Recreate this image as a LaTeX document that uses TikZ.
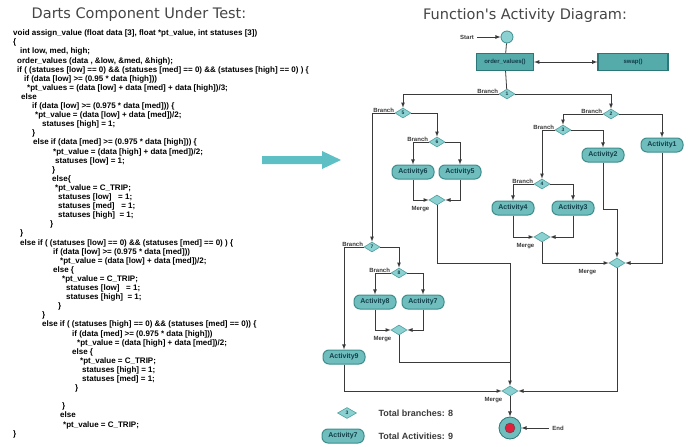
\documentclass[tikz,border=0pt]{standalone}
\usepackage{fontspec}
\setmainfont{Liberation Sans}
\newfontfamily\headfont{DejaVu Sans}
\usetikzlibrary{shapes.geometric}
\definecolor{linegray}{HTML}{3A3A3A}
\definecolor{actfill}{HTML}{6FBDBD}
\definecolor{actline}{HTML}{3E8E8E}
\definecolor{acttext}{HTML}{123F4A}
\definecolor{diafill}{HTML}{8CD1D1}
\definecolor{dialine}{HTML}{4F9F9F}
\definecolor{boxfill}{HTML}{55AAAA}
\definecolor{boxline}{HTML}{2C7878}
\definecolor{bigarrow}{HTML}{5EC0C5}
\definecolor{titlegray}{HTML}{454545}
\definecolor{endred}{HTML}{E0203C}

\begin{document}
\begin{tikzpicture}[x=1pt,y=-1pt,>=latex,
	code/.style={anchor=base west,inner sep=0pt,font=\bfseries\fontsize{8}{9}\selectfont},
	act/.style={draw=actline,fill=actfill,line width=1pt,rounded corners=6pt,minimum width=42pt,minimum height=14pt,inner sep=1pt,font=\bfseries\fontsize{7}{8}\selectfont,text=acttext},
	opbox/.style={draw=boxline,fill=boxfill,line width=1.2pt,minimum height=17pt,inner sep=1pt,font=\bfseries\fontsize{6}{7}\selectfont,text=acttext},
	dia/.style={diamond,draw=dialine,fill=diafill,line width=0.6pt,minimum width=16pt,minimum height=10pt,inner sep=0pt,font=\bfseries\fontsize{5}{5}\selectfont,text=acttext},
	brlab/.style={anchor=south east,inner sep=0.5pt,font=\bfseries\fontsize{6}{7}\selectfont,text=linegray},
	mglab/.style={anchor=north east,inner sep=0.5pt,xshift=-7pt,font=\bfseries\fontsize{6}{7}\selectfont,text=linegray},
	small/.style={font=\bfseries\fontsize{6}{7}\selectfont,text=linegray},
	legtxt/.style={anchor=west,font=\bfseries\fontsize{9}{10}\selectfont,text=linegray},
	flow/.style={draw=linegray,line width=0.8pt}]
	\useasboundingbox (0,0) rectangle (694,447);
	\fill[white] (0,0) rectangle (694,447);
	\node[font=\headfont\fontsize{14.5}{16}\selectfont,text=titlegray] (tcode) at (139,14) {Darts Component Under Test:};
	\node[font=\headfont\fontsize{14.5}{16}\selectfont,text=titlegray] (tact) at (525,15) {Function's Activity Diagram:};
	\foreach \i/\x/\t in {
		1/13/{void assign\_value (float data [3], float *pt\_value, int statuses [3])},
		2/13/{\{},
		3/20/{int low, med, high;},
		4/17/{order\_values (data , \&low, \&med, \&high);},
		5/17/{if ( (statuses [low] == 0) \&\& (statuses [med] == 0) \&\& (statuses [high] == 0) ) \{},
		6/24/{if (data [low] >= (0.95 * data [high]))},
		7/27/{*pt\_values = (data [low] + data [med] + data [high])/3;},
		8/21/{else},
		9/32/{if (data [low] >= (0.975 * data [med])) \{},
		10/35/{*pt\_value = (data [low] + data [med])/2;},
		11/42/{statuses [high] = 1;},
		12/32/{\}},
		13/33/{else if (data [med] >= (0.975 * data [high])) \{},
		14/53/{*pt\_value = (data [high] + data [med])/2;},
		15/55/{statuses [low] = 1;},
		16/52/{\}},
		17/52/{else\{},
		18/55/{*pt\_value = C\_TRIP;},
		19/58/{statuses [low] \ \ = 1;},
		20/58/{statuses [med] \ \ = 1;},
		21/58/{statuses [high] \ = 1;},
		22/50/{\}},
		23/20/{\}},
		24/20/{else if ( (statuses [low] == 0) \&\& (statuses [med] == 0) ) \{},
		25/53/{if (data [low] >= (0.975 * data [med]))},
		26/60/{*pt\_value = (data [low] + data [med])/2;},
		27/53/{else \{},
		28/62/{*pt\_value = C\_TRIP;},
		29/66/{statuses [low] \ \ = 1;},
		30/66/{statuses [high] \ = 1;},
		31/58/{\}},
		32/42/{\}},
		33/42/{else if ( (statuses [high] == 0) \&\& (statuses [med] == 0)) \{},
		34/72/{if (data [med] >= (0.975 * data [high]))},
		35/77/{*pt\_value = (data [high] + data [med])/2;},
		36/72/{else \{},
		37/80/{*pt\_value = C\_TRIP;},
		38/82/{statuses [high] = 1;},
		39/82/{statuses [med] = 1;},
		40/75/{\}},
		42/62/{\}},
		43/60/{else},
		44/63/{*pt\_value = C\_TRIP;},
		45/13/{\}}}
		\node[code] (c\i) at ({\x},{35.7+(\i-1)*9.1}) {\t};
	\fill[bigarrow] (262,156) -- (322,156) -- (322,151) -- (341,160) -- (322,169) -- (322,164) -- (262,164) -- cycle;
	\node[circle,draw=actline,fill=diafill,line width=0.8pt,minimum size=12pt,inner sep=0pt] (start) at (507,37) {};
	\node[small] (lstart) at (467,37) {Start};
	\node[opbox,minimum width=57pt] (ordv) at (505,62) {order\_values()};
	\node[opbox,minimum width=70pt] (swap) at (633,62) {swap()};
	\node[dia,label={[brlab]west:Branch}] (b1) at (507,94) {1};
	\node[dia,label={[brlab]west:Branch}] (b2) at (611,114) {2};
	\node[dia,label={[brlab]west:Branch}] (b3) at (563,130) {3};
	\node[dia,label={[brlab]west:Branch}] (b4) at (542,184) {4};
	\node[dia,label={[brlab]west:Branch}] (b5) at (403,113) {5};
	\node[dia,label={[brlab]west:Branch}] (b6) at (437,142) {6};
	\node[dia,label={[brlab]west:Branch}] (b7) at (372,247) {7};
	\node[dia,label={[brlab]west:Branch}] (b8) at (399,273) {8};
	\node[act] (act1) at (662,145) {Activity1};
	\node[act] (act2) at (603,155) {Activity2};
	\node[act] (act3) at (573,208) {Activity3};
	\node[act] (act4) at (513,208) {Activity4};
	\node[act] (act5) at (460,172) {Activity5};
	\node[act] (act6) at (413,172) {Activity6};
	\node[act] (act7) at (423,302) {Activity7};
	\node[act] (act8) at (375,302) {Activity8};
	\node[act] (act9) at (344,357) {Activity9};
	\node[dia,label={[mglab]south:Merge}] (m6) at (437,200) {};
	\node[dia,label={[mglab]south:Merge}] (m4) at (542,237) {};
	\node[dia,label={[mglab,xshift=-13pt]south:Merge}] (m2) at (617,263) {};
	\node[dia,label={[mglab]south:Merge}] (m8) at (399,330) {};
	\node[dia,label={[mglab]south:Merge}] (mend) at (510,391) {};
	\node[circle,draw=boxline,fill=actfill,line width=0.8pt,minimum size=22pt,inner sep=0pt] (end) at (510,428) {};
	\node[circle,draw=black!70,fill=endred,minimum size=10pt,inner sep=0pt] (endin) at (end) {};
	\node[small] (lend) at (558,428) {End};
	\coordinate (j1) at (510,263);
	\coordinate (j2) at (510,362);
	\coordinate (k2) at (617,209);
	\draw[flow,->] (lstart) -- (start);
	\draw[flow] (start) -- (ordv);
	\draw[flow,<->] (ordv) -- (swap);
	\draw[flow] (ordv) -- (b1);
	\draw[flow,->] (b1.west) -| (b5.north);
	\draw[flow,->] (b1.east) -| (b2.north);
	\draw[flow,->] (b5.west) -| (b7.north);
	\draw[flow,->] (b5.east) -| (b6.north);
	\draw[flow,->] (b6.west) -| (act6.north);
	\draw[flow,->] (b6.east) -| (act5.north);
	\draw[flow,->] (act6.south) |- (m6.west);
	\draw[flow,->] (act5.south) |- (m6.east);
	\draw[flow,->] (b2.west) -| (b3.north);
	\draw[flow,->] (b2.east) -| (act1.north);
	\draw[flow,->] (b3.west) -| (b4.north);
	\draw[flow,->] (b3.east) -| (act2.north);
	\draw[flow,->] (b4.west) -| (act4.north);
	\draw[flow,->] (b4.east) -| (act3.north);
	\draw[flow,->] (act4.south) |- (m4.west);
	\draw[flow,->] (act3.south) |- (m4.east);
	\draw[flow,->] (m4.south) |- (m2.west);
	\draw[flow,->] (act2.south) |- (k2) -- (m2.north);
	\draw[flow,->] (act1.south) |- (m2.east);
	\draw[flow,->] (m2.south) |- (mend.east);
	\draw[flow,->] (b7.west) -| (act9.north);
	\draw[flow,->] (b7.east) -| (b8.north);
	\draw[flow,->] (b8.west) -| (act8.north);
	\draw[flow,->] (b8.east) -| (act7.north);
	\draw[flow,->] (act8.south) |- (m8.west);
	\draw[flow,->] (act7.south) |- (m8.east);
	\draw[flow] (m8.south) |- (j2);
	\draw[flow,->] (m6.south) |- (j1) -- (mend.north);
	\draw[flow,->] (act9.south) |- (mend.west);
	\draw[flow,->] (mend) -- (end);
	\draw[flow,->] (lend.west) -- (end.east);
	\node[dia,minimum width=19pt,minimum height=11pt] (legb) at (347,413) {3};
	\node[legtxt] (legbt) at (375,413) {Total branches: 8};
	\node[act] (lega) at (343,436) {Activity7};
	\node[legtxt] (legat) at (375,436) {Total Activities: 9};
\end{tikzpicture}
\end{document}
